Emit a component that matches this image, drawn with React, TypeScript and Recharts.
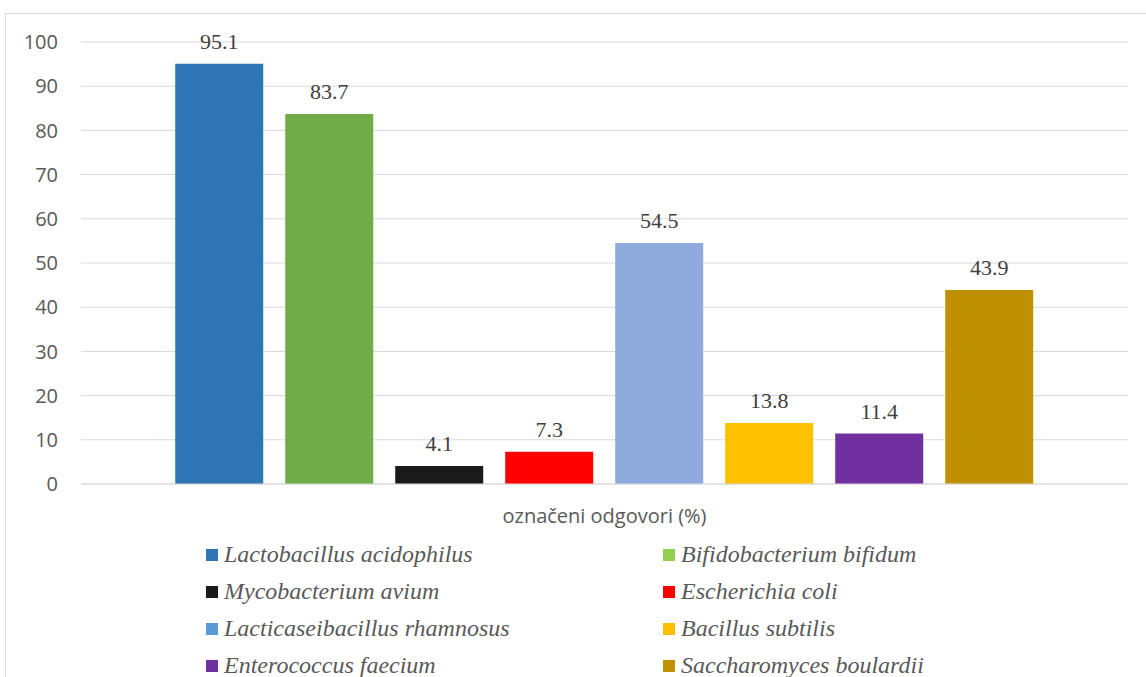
import React from 'react';
import { BarChart, Bar, XAxis, YAxis, CartesianGrid, Legend, LabelList, Label } from 'recharts';

const species = [
  'Lactobacillus acidophilus',
  'Bifidobacterium bifidum',
  'Mycobacterium avium',
  'Escherichia coli',
  'Lacticaseibacillus rhamnosus',
  'Bacillus subtilis',
  'Enterococcus faecium',
  'Saccharomyces boulardii',
];
const percentages = [95.1, 83.7, 4.1, 7.3, 54.5, 13.8, 11.4, 43.9];
const barColors = ['#2E75B6', '#70AD47', '#1A1A1A', '#FF0000', '#8FAADC', '#FFC000', '#7030A0', '#BF9000'];
const legendColors = ['#2E75B6', '#92D050', '#1A1A1A', '#FF0000', '#5B9BD5', '#FFC000', '#7030A0', '#BF9000'];
const yTicks = [0, 10, 20, 30, 40, 50, 60, 70, 80, 90, 100];
const category = 'označeni odgovori (%)';

const row: Record<string, string | number> = { name: category };
species.forEach((s, i) => {
  row[s] = percentages[i];
});
const data = [row];

const serif = '"Liberation Serif", "Times New Roman", serif';
const sans = '"Open Sans", "Liberation Sans", sans-serif';

const LegendBox = () => (
  <div
    style={{
      height: 130,
      paddingLeft: 206,
      paddingTop: 2,
      boxSizing: 'border-box',
      display: 'grid',
      gridTemplateColumns: '457px 457px',
      gridAutoRows: '37px',
      fontFamily: serif,
      fontStyle: 'italic',
      fontSize: 24,
      color: '#595959',
    }}
  >
    {species.map((s, i) => (
      <div key={s} style={{ display: 'flex', alignItems: 'center', whiteSpace: 'nowrap' }}>
        <span style={{ width: 12, height: 12, background: legendColors[i], marginRight: 6, flexShrink: 0 }} />
        <span>{s}</span>
      </div>
    ))}
  </div>
);

export default function App() {
  return (
    <div style={{ position: 'absolute', left: 0, top: 0, width: 1146, height: 677, overflow: 'hidden', background: '#fff' }}>
      <div
        style={{
          position: 'absolute',
          left: 5,
          top: 13,
          width: 1160,
          height: 700,
          border: '1px solid #d9d9d9',
        }}
      />
      <div style={{ position: 'absolute', left: 0, top: 0 }}>
        <BarChart
          width={1146}
          height={677}
          data={data}
          margin={{ top: 42, right: 18, bottom: 13, left: 0 }}
          barCategoryGap="9%"
          barGap={22}
        >
          <CartesianGrid vertical={false} stroke="#d9d9d9" />
          <XAxis dataKey="name" tick={false} tickLine={false} axisLine={{ stroke: '#d9d9d9' }} height={50}>
            <Label
              value={category}
              position="insideTop"
              offset={25}
              style={{ fontFamily: sans, fontSize: 20, fill: '#595959' }}
            />
          </XAxis>
          <YAxis
            width={81}
            domain={[0, 100]}
            ticks={yTicks}
            axisLine={false}
            tickLine={false}
            tickSize={0}
            tickMargin={23}
            tick={{ fontFamily: sans, fontSize: 20, fill: '#595959' }}
          />
          <Legend verticalAlign="bottom" content={() => <LegendBox />} />
          {species.map((s, i) => (
            <Bar key={s} dataKey={s} fill={barColors[i]} isAnimationActive={false}>
              <LabelList
                dataKey={s}
                position="top"
                offset={15}
                style={{ fontFamily: serif, fontSize: 22, fill: '#404040' }}
              />
            </Bar>
          ))}
        </BarChart>
      </div>
    </div>
  );
}
